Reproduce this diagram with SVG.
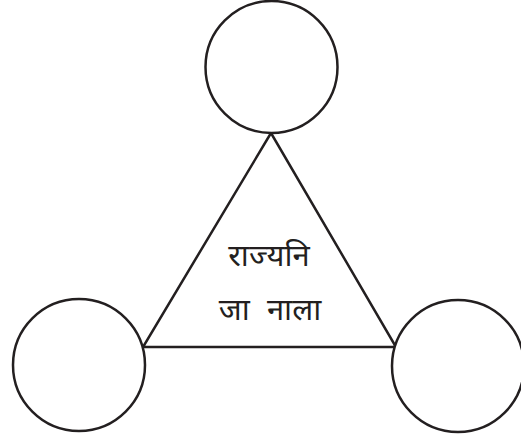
<svg xmlns="http://www.w3.org/2000/svg" width="521" height="442" viewBox="0 0 521 442">
<style>
.n{fill:#fff;stroke:#231f20;stroke-width:2.5}
.e{fill:none;stroke:#231f20;stroke-width:2.5}
.t{font-family:"Noto Sans Devanagari","Noto Sans","DejaVu Sans",sans-serif;font-size:31px;fill:#231f20;text-anchor:middle}
</style>
<rect width="521" height="442" fill="#fff"/>
<g id="connectors">
<path class="e" d="M271,133 L143,347 L396,347 Z"/>
</g>
<g id="top"><circle class="n" cx="271.5" cy="67" r="66"/></g>
<g id="left"><circle class="n" cx="79" cy="365" r="66"/></g>
<g id="right"><circle class="n" cx="458" cy="366" r="66"/></g>
<g id="label">
<text class="t" x="269" y="266">राज्यनि</text>
<text class="t" x="270" y="320" style="word-spacing:9px">जा नाला</text>
</g>
</svg>
